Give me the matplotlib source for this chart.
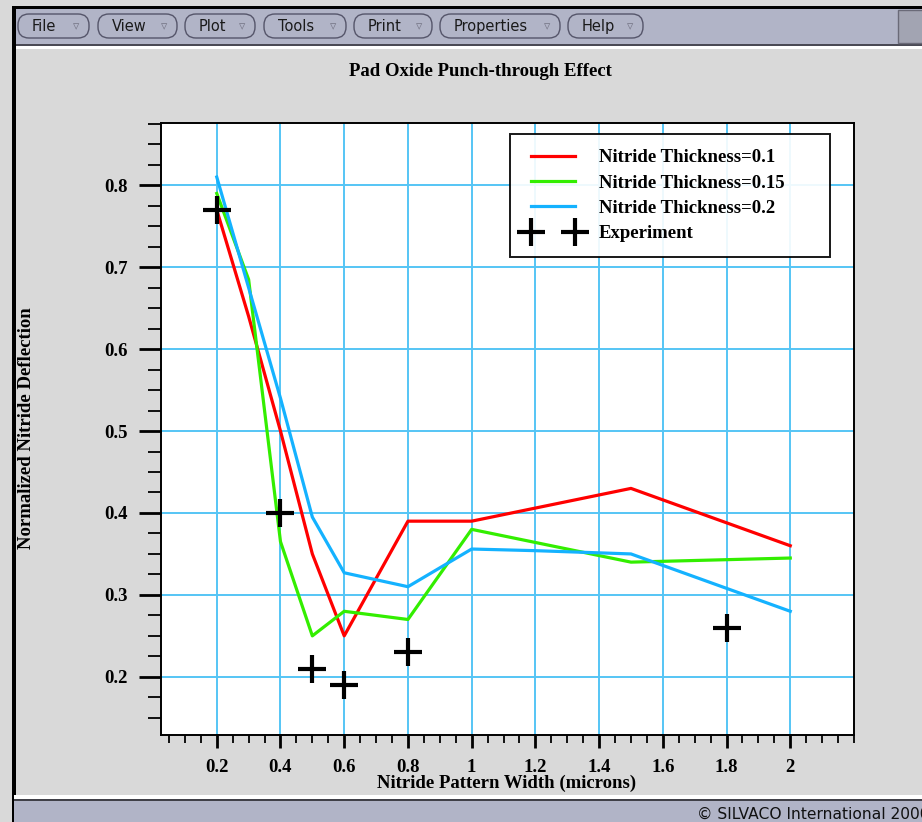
import matplotlib
matplotlib.use("Agg")
import matplotlib.pyplot as plt
from matplotlib.patches import Rectangle, FancyBboxPatch
from matplotlib.ticker import MultipleLocator, FuncFormatter

W, H = 922, 822

# simulated deflection vs. pattern width, one curve per nitride thickness
width_01 = [0.2, 0.3, 0.4, 0.5, 0.6, 0.8, 1.0, 1.5, 2.0]
defl_01 = [0.77, 0.64, 0.50, 0.35, 0.25, 0.39, 0.39, 0.43, 0.36]

width_015 = [0.2, 0.3, 0.4, 0.5, 0.6, 0.8, 1.0, 1.5, 2.0]
defl_015 = [0.79, 0.685, 0.365, 0.25, 0.28, 0.27, 0.38, 0.34, 0.345]

width_02 = [0.2, 0.4, 0.5, 0.6, 0.8, 1.0, 1.2, 1.5, 2.0]
defl_02 = [0.81, 0.54, 0.395, 0.327, 0.31, 0.356, 0.354, 0.35, 0.28]

# measured points
exp_width = [0.2, 0.4, 0.5, 0.6, 0.8, 1.8]
exp_defl = [0.77, 0.40, 0.21, 0.19, 0.23, 0.26]

x_ticks = [0.2, 0.4, 0.6, 0.8, 1.0, 1.2, 1.4, 1.6, 1.8, 2.0]

menu_items = ["File", "View", "Plot", "Tools", "Print", "Properties", "Help"]
menu_x = [(18, 89), (98, 177), (185, 255), (264, 346), (354, 432), (440, 560), (568, 643)]

SERIF = "Liberation Serif"
FS = 13.5
BAR = "#b1b4c7"
PANEL = "#d9d9d9"


def fx(px):
    return px / W


def fy(py):
    return 1 - py / H


fig = plt.figure(figsize=(W / 100, H / 100), dpi=100)
fig.patch.set_facecolor(PANEL)

# window chrome drawn in pixel coordinates
bg = fig.add_axes([0, 0, 1, 1])
bg.set_xlim(0, W)
bg.set_ylim(H, 0)
bg.axis("off")

bg.add_patch(Rectangle((14, 7), W, 38, facecolor=BAR, edgecolor="none"))
bg.add_patch(Rectangle((14, 6), W, 3, facecolor="black", edgecolor="none"))
bg.add_patch(Rectangle((14, 44), W, 2, facecolor="#4a4a55", edgecolor="none"))
bg.add_patch(Rectangle((14, 46), W, 3, facecolor="white", edgecolor="none"))
bg.add_patch(Rectangle((898, 10), 30, 33, facecolor="#a2a4b2", edgecolor="#6a6a78", lw=1))
bg.add_patch(Rectangle((12, 6), 4, H, facecolor="black", edgecolor="none"))
bg.add_patch(Rectangle((14, 795), W, 5, facecolor="white", edgecolor="none"))
bg.add_patch(Rectangle((14, 799), W, 2, facecolor="#404048", edgecolor="none"))
bg.add_patch(Rectangle((14, 801), W, 25, facecolor=BAR, edgecolor="none"))

for name, (x0, x1) in zip(menu_items, menu_x):
    bg.add_patch(FancyBboxPatch((x0, 14), x1 - x0, 24,
                                boxstyle="round,pad=0,rounding_size=11",
                                facecolor=BAR, edgecolor="#55556a", lw=1))
    bg.text(x0 + 14, 26.5, name, fontsize=10.5, family="DejaVu Sans",
            ha="left", va="center", color="#1a1a1a")
    bg.text(x1 - 13, 27, "\u25bf", fontsize=9, family="DejaVu Sans",
            ha="center", va="center", color="#777788")

# status line runs past the right edge of the window
bg.text(697, 814, "\u00a9 SILVACO International 2000", fontsize=11.2,
        family="DejaVu Sans", ha="left", va="center", color="#111111")

# plot area
ax = fig.add_axes([fx(161), fy(735), (854 - 161) / W, (735 - 123) / H])
ax.set_facecolor("white")

ax.plot(width_01, defl_01, color="#ff0000", lw=2.3, label="Nitride Thickness=0.1", zorder=3)
ax.plot(width_015, defl_015, color="#33ee00", lw=2.3, label="Nitride Thickness=0.15", zorder=3)
ax.plot(width_02, defl_02, color="#14b2ff", lw=2.3, label="Nitride Thickness=0.2", zorder=3)
ax.plot(exp_width, exp_defl, ls="none", marker="+", ms=20, mew=3,
        color="black", label="Experiment", zorder=4)

ax.set_xlim(0.025, 2.2)
ax.set_ylim(0.129, 0.876)

ax.set_xticks(x_ticks)
ax.xaxis.set_minor_locator(MultipleLocator(0.05))
ax.yaxis.set_major_locator(MultipleLocator(0.1))
ax.yaxis.set_minor_locator(MultipleLocator(0.025))
ax.xaxis.set_major_formatter(FuncFormatter(lambda v, p: "%g" % round(v, 2)))
ax.yaxis.set_major_formatter(FuncFormatter(lambda v, p: "%g" % round(v, 2)))

ax.grid(True, which="major", color="#55c5f5", lw=1.4, zorder=1)
ax.set_axisbelow(True)

for s in ax.spines.values():
    s.set_linewidth(1.4)
    s.set_color("black")

ax.tick_params(axis="x", which="major", direction="out", length=9, width=2, pad=8)
ax.tick_params(axis="x", which="minor", direction="out", length=6, width=1.3)
ax.tick_params(axis="y", which="major", direction="out", length=16, width=2, pad=8)
ax.tick_params(axis="y", which="minor", direction="out", length=9.5, width=1.3)
for lab in ax.get_xticklabels() + ax.get_yticklabels():
    lab.set_family(SERIF)
    lab.set_fontweight("bold")
    lab.set_fontsize(FS)

leg = ax.legend(loc="upper left", mode="expand", numpoints=2,
                bbox_to_anchor=(fx(510), fy(255), (830 - 510) / W, (255 - 134) / H),
                bbox_transform=fig.transFigure,
                prop={"family": SERIF, "weight": "bold", "size": FS},
                handlelength=2.95, handletextpad=1.0, labelspacing=0.44,
                borderpad=0.8, borderaxespad=0, fancybox=False, framealpha=0.9)
leg.get_frame().set_edgecolor("black")
leg.get_frame().set_linewidth(1.4)

fig.text(fx(480), fy(72), "Pad Oxide Punch-through Effect", family=SERIF,
         fontweight="bold", fontsize=FS, ha="center", va="center")
fig.text(fx(507), fy(783), "Nitride Pattern Width (microns)", family=SERIF,
         fontweight="bold", fontsize=FS, ha="center", va="center")
fig.text(fx(27), fy(428), "Normalized Nitride Deflection", family=SERIF,
         fontweight="bold", fontsize=FS, ha="center", va="center", rotation=90)

fig.savefig("out.png", dpi=100, facecolor=fig.get_facecolor())
